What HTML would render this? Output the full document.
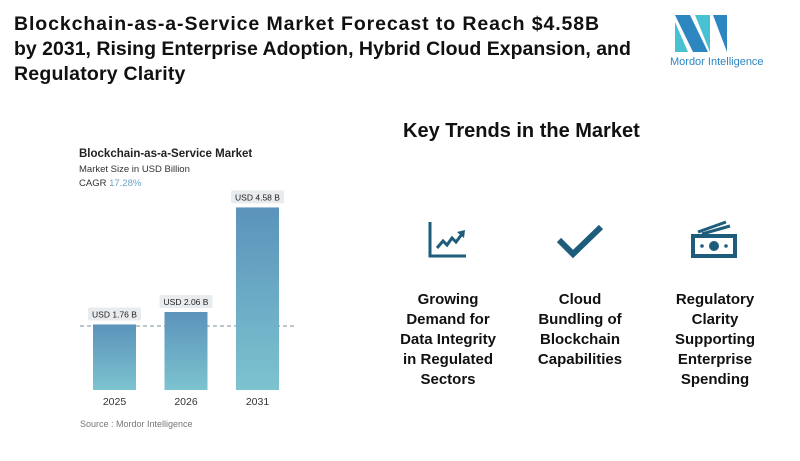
<!DOCTYPE html>
<html><head><meta charset="utf-8"><style>
body{margin:0;width:800px;height:461px;background:#fff;font-family:"Liberation Sans",sans-serif;position:relative;overflow:hidden}
.t{position:absolute;left:14px;top:12px;font-size:19.5px;font-weight:bold;line-height:25px;color:#111;white-space:nowrap}
.kt{position:absolute;left:403px;top:120px;font-size:20px;font-weight:bold;color:#111}
.tr{position:absolute;top:290px;width:100px;text-align:center;font-size:15px;font-weight:bold;line-height:20px;color:#111}
</style></head><body>
<div class="t"><span style="letter-spacing:0.9px">Blockchain-as-a-Service Market Forecast to Reach $4.58B</span><br><span style="letter-spacing:0px">by 2031, Rising Enterprise Adoption, Hybrid Cloud Expansion, and</span><br><span style="letter-spacing:0.2px">Regulatory Clarity</span></div>
<svg style="position:absolute;left:670px;top:12px" width="110" height="60">
<polygon points="5,3 20,3 38,40 23,40" fill="#2e86c1"/><polygon points="5,10 5,40 18,40" fill="#48c1d0"/>
<polygon points="25,3 40,3 40,40" fill="#48c1d0"/><polygon points="43,3 57,3 57,40" fill="#2e86c1"/>
<text x="0" y="53" font-size="11" fill="#2e86c1" font-family="Liberation Sans">Mordor Intelligence</text></svg>
<svg id="c" style="position:absolute;left:0;top:0" width="360" height="461">
<text x="79" y="157" font-size="11.5" font-weight="bold" fill="#222">Blockchain-as-a-Service Market</text>
<text x="79" y="172" font-size="9.5" fill="#333">Market Size in USD Billion</text>
<text x="79" y="186" font-size="9.5" fill="#333">CAGR <tspan fill="#6aa5c9">17.28%</tspan></text>
<defs><linearGradient id="g" x1="0" y1="0" x2="0" y2="1"><stop offset="0" stop-color="#5b93bb"/><stop offset="1" stop-color="#7cc3cf"/></linearGradient></defs>
<line x1="80" y1="326" x2="296" y2="326" stroke="#7a8f99" stroke-dasharray="4,3"/>
<text x="80" y="427" font-size="9" fill="#777">Source :  Mordor Intelligence</text>
</svg>
<div class="kt">Key Trends in the Market</div>
<svg style="position:absolute;left:428px;top:220px" width="40" height="40"><path d="M2,2V36H38" stroke="#1d5c7a" stroke-width="3" fill="none"/><path d="M9,28L15,21L19,25L24,18L28,22L34,14" stroke="#1d5c7a" stroke-width="3" fill="none"/><polygon points="29,12 37,10 36,18" fill="#1d5c7a"/></svg>
<svg style="position:absolute;left:555px;top:222px" width="50" height="38"><path d="M4,18L18,32L46,5" stroke="#1d5c7a" stroke-width="6" fill="none"/></svg>
<svg style="position:absolute;left:690px;top:220px" width="50" height="40"><path d="M8,12L36,2M12,14L40,6" stroke="#1d5c7a" stroke-width="3"/><rect x="3" y="16" width="42" height="20" fill="none" stroke="#1d5c7a" stroke-width="4"/><circle cx="24" cy="26" r="5" fill="#1d5c7a"/><circle cx="12" cy="26" r="1.8" fill="#1d5c7a"/><circle cx="36" cy="26" r="1.8" fill="#1d5c7a"/></svg>
<div class="tr" style="left:398px">Growing Demand for Data Integrity in Regulated Sectors</div>
<div class="tr" style="left:530px">Cloud Bundling of Blockchain Capabilities</div>
<div class="tr" style="left:665px">Regulatory Clarity Supporting Enterprise Spending</div>
<script>
const categories=["2025","2026","2031"];
const values=[1.76,2.06,4.58];
const valueLabels=["USD 1.76 B","USD 2.06 B","USD 4.58 B"];
const svg=document.getElementById('c');const NS="http://www.w3.org/2000/svg";
const base=390;
function y(v){return base-(41.5*v-7.5);}
function x(i){return 93+i*71.5;}
const bw=43;
categories.forEach((c,i)=>{
 const top=y(values[i]);
 const r=document.createElementNS(NS,'rect');
 r.setAttribute('x',x(i));r.setAttribute('y',top);r.setAttribute('width',bw);r.setAttribute('height',base-top);r.setAttribute('fill','url(#g)');
 
 
 svg.appendChild(r);
 const p=document.createElementNS(NS,'rect');
 p.setAttribute('x',x(i)-5);p.setAttribute('y',top-17);p.setAttribute('width',bw+10);p.setAttribute('height',13);p.setAttribute('rx',2);p.setAttribute('fill','#e8ecee');
 
 
 svg.appendChild(p);
 const t=document.createElementNS(NS,'text');
 t.setAttribute('x',x(i)+bw/2);t.setAttribute('y',top-7);t.setAttribute('text-anchor','middle');t.setAttribute('font-size','8.5');t.setAttribute('fill','#222');
 t.textContent=valueLabels[i];
 
 
 svg.appendChild(t);
 const l=document.createElementNS(NS,'text');
 l.setAttribute('x',x(i)+bw/2);l.setAttribute('y',base+15);l.setAttribute('text-anchor','middle');l.setAttribute('font-size','10.5');l.setAttribute('fill','#333');
 l.textContent=c;
 
 
 svg.appendChild(l);
});
</script>
</body></html>
